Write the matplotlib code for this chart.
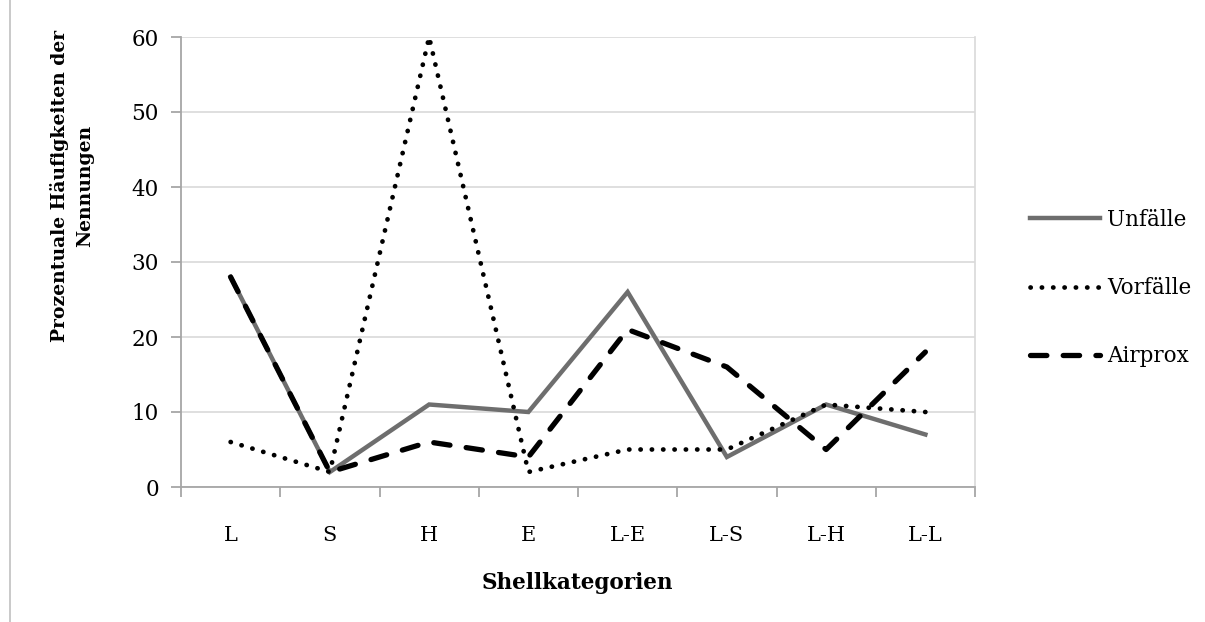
import matplotlib
matplotlib.use("Agg")
import matplotlib.pyplot as plt
from matplotlib.lines import Line2D
import numpy as np

categories = ["L", "S", "H", "E", "L-E", "L-S", "L-H", "L-L"]
unfaelle = [28, 2, 11, 10, 26, 4, 11, 7]
vorfaelle = [6, 2, 60, 2, 5, 5, 11, 10]
airprox = [28, 2, 6, 4, 21, 16, 5, 18]

plt.rcParams["font.family"] = ["DejaVu Serif"]

fig = plt.figure(figsize=(12.05, 6.22), dpi=100)
ax = fig.add_axes([181 / 1205, 1 - 487 / 622, 794 / 1205, 450 / 622])

x = np.arange(len(categories))
ax.plot(x, unfaelle, color="#6e6e6e", lw=3.2, solid_joinstyle="miter", zorder=3,
        label="Unfälle")
ax.plot(x, vorfaelle, color="black", lw=3.4, linestyle=(0, (0.05, 2.35)),
        dash_capstyle="round", zorder=4, label="Vorfälle")
ax.plot(x, airprox, color="black", lw=3.8, linestyle=(0, (3.1, 3.1)),
        dash_capstyle="round", zorder=5, label="Airprox")

ax.set_xlim(-0.5, len(categories) - 0.5)
ax.set_ylim(0, 60)
ax.set_yticks(range(0, 61, 10))
ax.set_xticks(x)
ax.set_xticklabels(categories)
ax.set_xticks(np.arange(-0.5, len(categories)), minor=True)

ax.grid(axis="y", color="#d9d9d9", lw=1.2)
ax.set_axisbelow(True)
for side in ["left", "bottom"]:
    ax.spines[side].set_color("#a6a6a6")
    ax.spines[side].set_linewidth(1.3)
ax.spines["top"].set_visible(False)
ax.spines["right"].set_color("#d9d9d9")
ax.spines["right"].set_linewidth(1.2)

ax.tick_params(axis="x", which="major", length=0, pad=35, labelsize=15)
ax.tick_params(axis="x", which="minor", length=7, width=1.3, color="#a6a6a6")
ax.tick_params(axis="y", length=7, width=1.3, color="#a6a6a6", pad=9, labelsize=15.5)
for lbl in ax.get_xticklabels():
    lbl.set_verticalalignment("center")

fig.text(577 / 1205, 1 - 583 / 622, "Shellkategorien", ha="center", va="center",
         fontsize=15.5, fontweight="bold")
fig.text(72 / 1205, 1 - 186 / 622, "Prozentuale Häufigkeiten der\nNennungen",
         ha="center", va="center", rotation=90, fontsize=13.5, fontweight="bold",
         linespacing=1.45)

leg = ax.legend(loc="center left", bbox_to_anchor=(1.069, 0.442), frameon=False,
                fontsize=15.5, handlelength=3.25, handletextpad=0.35,
                labelspacing=2.15, borderaxespad=0.0, borderpad=0.0)

# thin border at the left edge of the figure
fig.add_artist(Line2D([10 / 1205, 10 / 1205], [0, 1], color="#c0c0c0", lw=1.2))

fig.savefig("out.png", dpi=100, facecolor="white")
